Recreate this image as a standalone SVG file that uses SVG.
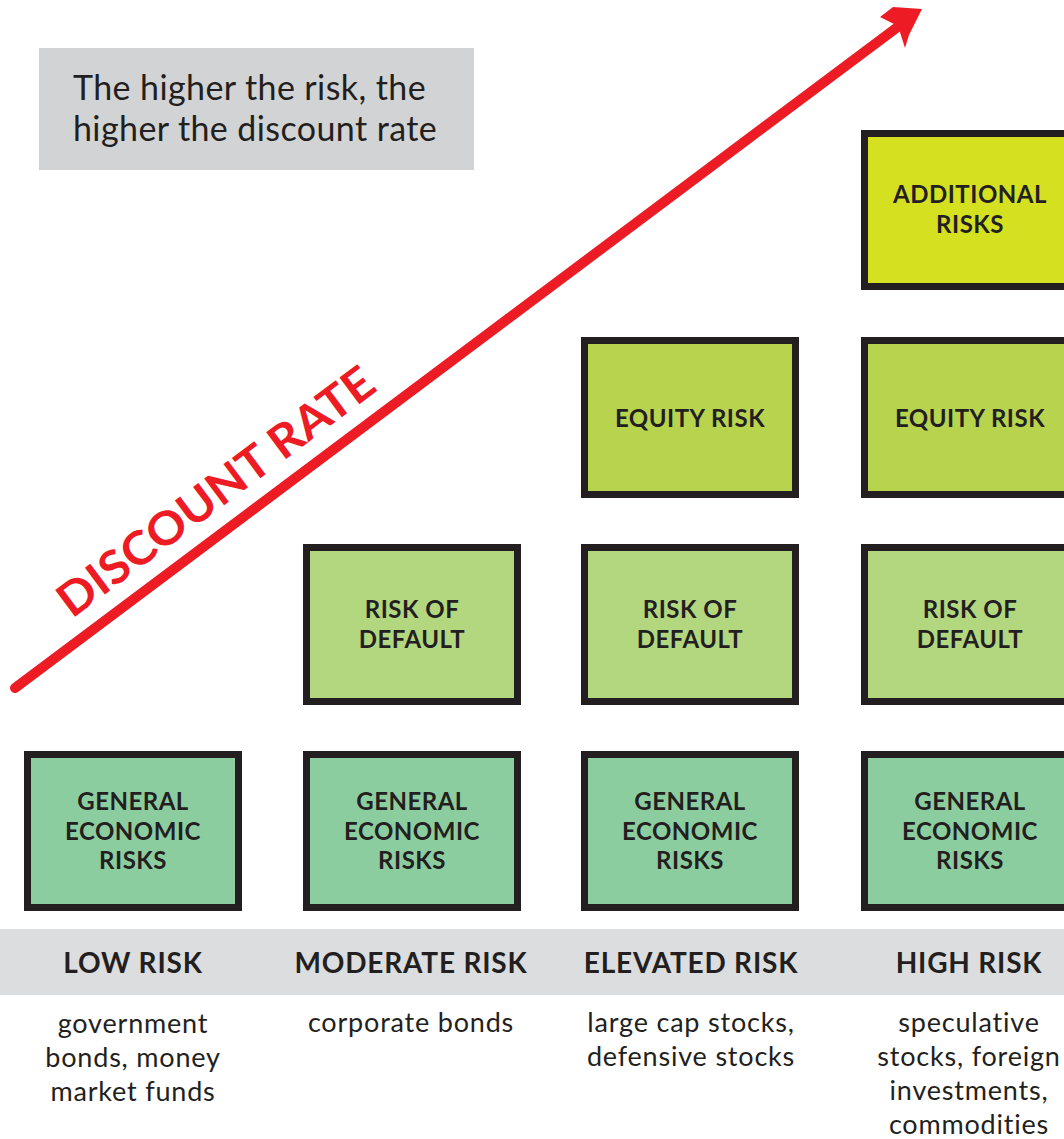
<svg xmlns="http://www.w3.org/2000/svg" width="1064" height="1139" viewBox="0 0 1064 1139">
<style>
.box{stroke:#231f20;stroke-width:7}
.ge{fill:#8ccda0}
.rd{fill:#b3d77f}
.eq{fill:#b8d44e}
.ad{fill:#d5e021}
.bt{font-family:Lato,"Liberation Sans",sans-serif;font-weight:bold;font-size:24px;letter-spacing:0.5px;fill:#231f20;text-anchor:middle}
.hd{font-family:Lato,"Liberation Sans",sans-serif;font-weight:bold;font-size:28px;letter-spacing:0.8px;fill:#231f20;text-anchor:middle}
.ds{font-family:Lato,"Liberation Sans",sans-serif;font-size:27px;letter-spacing:0.8px;fill:#231f20;text-anchor:middle}
.nt{font-family:Lato,"Liberation Sans",sans-serif;font-size:34px;letter-spacing:0.4px;fill:#231f20}
</style>
<rect width="1064" height="1139" fill="#ffffff"/>
<g id="note">
<rect x="39" y="48" width="435" height="122" fill="#d1d3d4"/>
<text class="nt" x="73" y="100">The higher the risk, the</text>
<text class="nt" x="73" y="141">higher the discount rate</text>
</g>
<g id="connectors">
<line x1="15" y1="688" x2="899" y2="26" stroke="#ed1c24" stroke-width="10" stroke-linecap="round"/>
<polygon points="922,9 893,7 880,17 898,26 905,48 909,35" fill="#ed1c24"/>
<text x="72" y="619" transform="rotate(-36.8 72 619)" textLength="383" lengthAdjust="spacingAndGlyphs" font-family="Lato,'Liberation Sans',sans-serif" font-weight="bold" font-size="46" fill="#ed1c24">DISCOUNT RATE</text>
</g>
<g id="band">
<rect x="0" y="929" width="1064" height="66" fill="#dcddde"/>
</g>
<g id="low-general"><rect class="box ge" x="27.5" y="754.5" width="211" height="153"/><text class="bt" x="133" y="810">GENERAL</text><text class="bt" x="133" y="840">ECONOMIC</text><text class="bt" x="133" y="869">RISKS</text></g>
<g id="mod-general"><rect class="box ge" x="306.5" y="754.5" width="211" height="153"/><text class="bt" x="412" y="810">GENERAL</text><text class="bt" x="412" y="840">ECONOMIC</text><text class="bt" x="412" y="869">RISKS</text></g>
<g id="ele-general"><rect class="box ge" x="584.5" y="754.5" width="211" height="153"/><text class="bt" x="690" y="810">GENERAL</text><text class="bt" x="690" y="840">ECONOMIC</text><text class="bt" x="690" y="869">RISKS</text></g>
<g id="high-general"><rect class="box ge" x="864.5" y="754.5" width="211" height="153"/><text class="bt" x="970" y="810">GENERAL</text><text class="bt" x="970" y="840">ECONOMIC</text><text class="bt" x="970" y="869">RISKS</text></g>
<g id="mod-default"><rect class="box rd" x="306.5" y="547.5" width="211" height="154"/><text class="bt" x="412" y="618">RISK OF</text><text class="bt" x="412" y="648">DEFAULT</text></g>
<g id="ele-default"><rect class="box rd" x="584.5" y="547.5" width="211" height="154"/><text class="bt" x="690" y="618">RISK OF</text><text class="bt" x="690" y="648">DEFAULT</text></g>
<g id="high-default"><rect class="box rd" x="864.5" y="547.5" width="211" height="154"/><text class="bt" x="970" y="618">RISK OF</text><text class="bt" x="970" y="648">DEFAULT</text></g>
<g id="ele-equity"><rect class="box eq" x="584.5" y="340.5" width="211" height="154"/><text class="bt" x="690" y="427">EQUITY RISK</text></g>
<g id="high-equity"><rect class="box eq" x="864.5" y="340.5" width="211" height="154"/><text class="bt" x="970" y="427">EQUITY RISK</text></g>
<g id="high-additional"><rect class="box ad" x="864.5" y="133.5" width="211" height="153"/><text class="bt" x="970" y="203">ADDITIONAL</text><text class="bt" x="970" y="233">RISKS</text></g>
<g id="labels">
<text class="hd" x="133" y="973">LOW RISK</text>
<text class="hd" x="411" y="973">MODERATE RISK</text>
<text class="hd" x="691" y="973">ELEVATED RISK</text>
<text class="hd" x="969" y="973">HIGH RISK</text>
<text class="ds" x="133" y="1033">government</text>
<text class="ds" x="133" y="1067">bonds, money</text>
<text class="ds" x="133" y="1101">market funds</text>
<text class="ds" x="411" y="1032">corporate bonds</text>
<text class="ds" x="691" y="1032">large cap stocks,</text>
<text class="ds" x="691" y="1066">defensive stocks</text>
<text class="ds" x="969" y="1032">speculative</text>
<text class="ds" x="969" y="1066">stocks, foreign</text>
<text class="ds" x="969" y="1100">investments,</text>
<text class="ds" x="969" y="1134">commodities</text>
</g>
</svg>
